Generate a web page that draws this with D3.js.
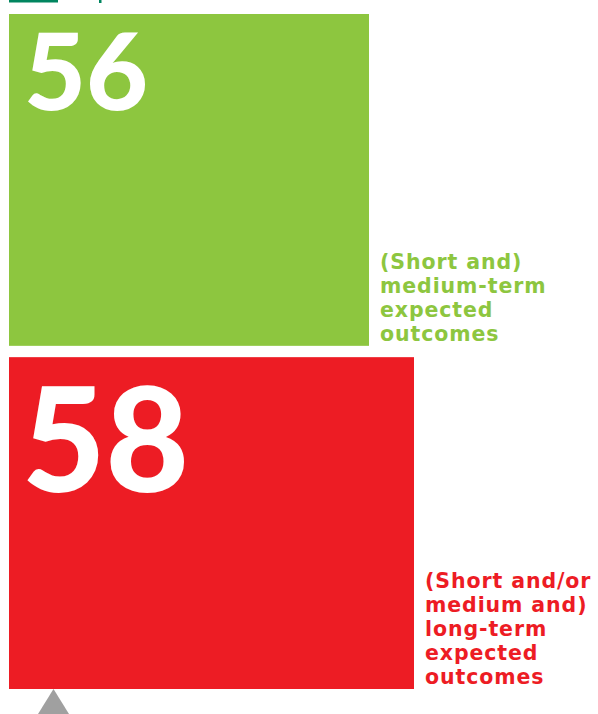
<!DOCTYPE html>
<html><head><meta charset="utf-8">
<script src="https://cdn.jsdelivr.net/npm/d3@7"></script>
<style>html,body{margin:0;padding:0;background:#fff;}svg{display:block;}</style>
</head><body>
<script>
const categories = ["(Short and) medium-term expected outcomes", "(Short and/or medium and) long-term expected outcomes"];
const values = [56, 58];
const labelLines = [
  ["(Short and)", "medium-term", "expected", "outcomes"],
  ["(Short and/or", "medium and)", "long-term", "expected", "outcomes"]
];
const colors = ["#8dc63f", "#ed1c24"];

const W = 598, H = 714;
const svg = d3.select("body").append("svg").attr("width", W).attr("height", H);

const x = d3.scaleLinear().domain([40, 58]).range([0, 405]);
const y = d3.scaleBand().domain(categories).range([14, 689]).paddingInner(0.033);
const x0 = 9;

// cropped top fragments
svg.append("rect").attr("x", 9).attr("y", 0).attr("width", 49).attr("height", 2.5).attr("fill", "#00855f");
svg.append("rect").attr("x", 99).attr("y", 0).attr("width", 2.5).attr("height", 3).attr("fill", "#00855f");

const g = svg.selectAll("g.bar").data(categories).enter().append("g").attr("class", "bar");
g.append("rect")
  .attr("x", x0)
  .attr("y", d => y(d))
  .attr("width", (d, i) => x(values[i]))
  .attr("height", y.bandwidth())
  .attr("fill", (d, i) => colors[i]);

const numSizes = [107, 144];
const numBase = [110, 492];
const numX = [24, 22];
g.append("text")
  .attr("x", (d, i) => numX[i])
  .attr("y", (d, i) => numBase[i])
  .attr("font-family", "Lato").attr("font-weight", 900)
  .attr("font-size", (d, i) => numSizes[i])
  .attr("fill", "#fff")
  .text((d, i) => values[i]);

const lh = 24;
g.each(function(d, i) {
  const lines = labelLines[i];
  const bottom = y(d) + y.bandwidth() - 5;
  const t = d3.select(this).append("text")
    .attr("font-family", "DejaVu Sans").attr("font-weight", 700)
    .attr("font-size", 20.5).attr("letter-spacing", 0.9).attr("fill", colors[i]);
  lines.forEach((ln, k) => {
    t.append("tspan").attr("x", x0 + x(values[i]) + 11)
      .attr("y", bottom - (lines.length - 1 - k) * lh).text(ln);
  });
});

// gray triangle marker at bottom
svg.append("path")
  .attr("d", d3.line()([[53.5, 689], [69, 714], [38, 714]]) + "Z")
  .attr("fill", "#a0a0a0");
</script>
</body></html>
